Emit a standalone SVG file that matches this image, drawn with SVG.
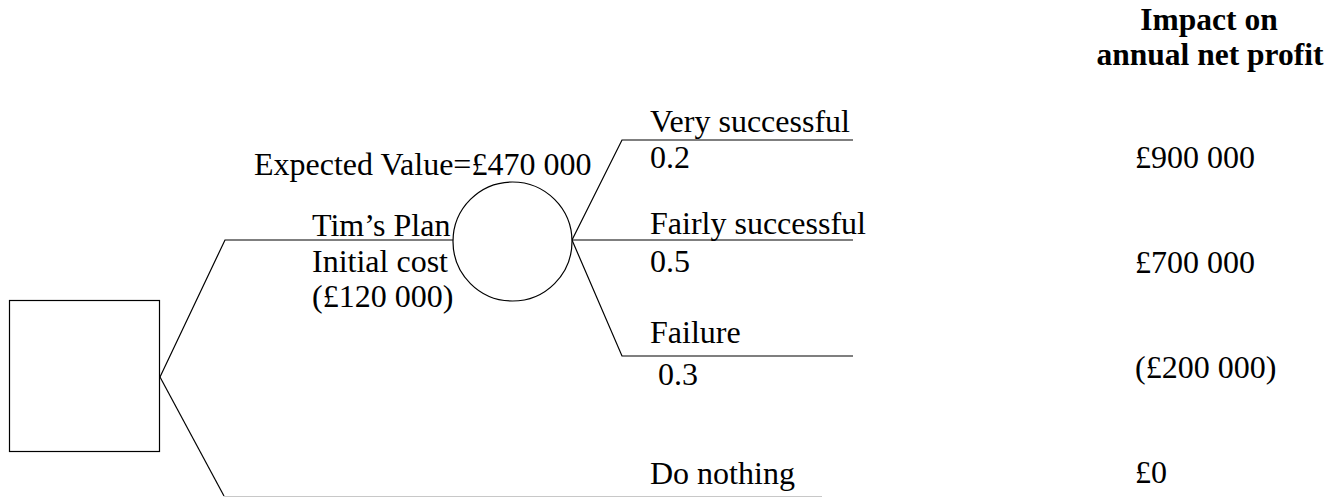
<svg xmlns="http://www.w3.org/2000/svg" width="1340" height="497" viewBox="0 0 1340 497">
<style>
text{font-family:'Liberation Serif','Times New Roman','DejaVu Serif',serif;font-size:32px;fill:#000}
.h{font-weight:bold;text-anchor:middle;font-size:31.5px}
.ln{fill:none;stroke:#000;stroke-width:1.2}
.nd{fill:#fff;stroke:#000;stroke-width:1.2}
</style>
<rect width="1340" height="497" fill="#fff"/>
<g id="connectors">
<polyline class="ln" points="160,377 225,240 453,240"/>
<polyline class="ln" points="160,377 224,496"/>
<line x1="224" y1="496.5" x2="822" y2="496.5" stroke="#c8c8c8" stroke-width="1"/>
<polyline class="ln" points="572,240 622,140 853,140"/>
<polyline class="ln" points="572,240 853,240"/>
<polyline class="ln" points="572,240 622,356 853,356"/>
</g>
<g id="decision">
<rect class="nd" x="9.5" y="300.5" width="150" height="151"/>
</g>
<g id="chance">
<ellipse class="nd" cx="512.5" cy="241.5" rx="59.5" ry="59.5"/>
</g>
<g id="labels" font-family="'Liberation Serif','Times New Roman','DejaVu Serif',serif">
<text x="254" y="175">Expected Value=£470 000</text>
<text x="312" y="236">Tim’s Plan</text>
<text x="312" y="272">Initial cost</text>
<text x="312" y="307">(£120 000)</text>
<text x="650" y="132">Very successful</text>
<text x="650" y="168">0.2</text>
<text x="650" y="234">Fairly successful</text>
<text x="650" y="272">0.5</text>
<text x="650" y="343">Failure</text>
<text x="658" y="385">0.3</text>
<text x="650" y="484">Do nothing</text>
</g>
<g id="header" font-family="'Liberation Serif','Times New Roman','DejaVu Serif',serif">
<text class="h" x="1209" y="30">Impact on</text>
<text class="h" x="1210" y="65">annual net profit</text>
</g>
<g id="values" font-family="'Liberation Serif','Times New Roman','DejaVu Serif',serif">
<text x="1135" y="168">£900 000</text>
<text x="1135" y="273">£700 000</text>
<text x="1135" y="378">(£200 000)</text>
<text x="1135" y="483">£0</text>
</g>
</svg>
